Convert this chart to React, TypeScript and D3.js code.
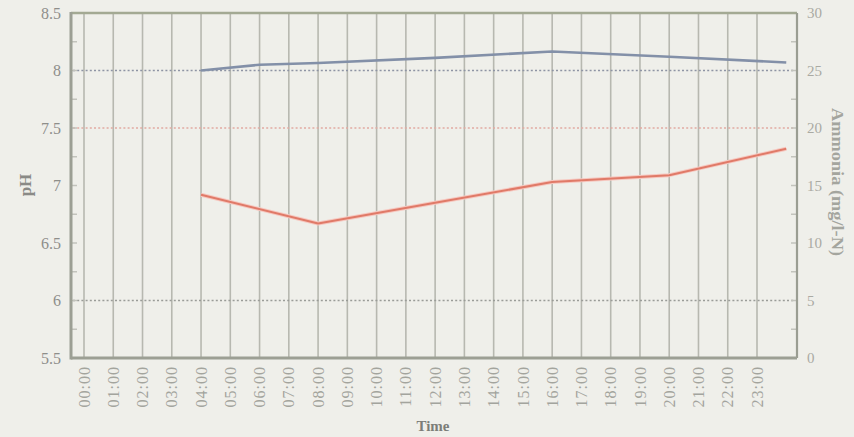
import React from "react";
import * as d3 from "d3";

const hours = d3.range(0, 24);
const hourLabels = hours.map((h) => `${String(h).padStart(2, "0")}:00`);
const phTicks = [5.5, 6, 6.5, 7, 7.5, 8, 8.5];
const ammoniaTicks = [0, 5, 10, 15, 20, 25, 30];

const phHours = [4, 6, 8, 12, 16, 20, 24];
const phValues = [8.0, 8.05, 8.065, 8.11, 8.165, 8.12, 8.07];

const ammoniaHours = [4, 8, 12, 16, 20, 24];
const ammoniaValues = [14.2, 11.7, 13.5, 15.3, 15.9, 18.2];

const refLevels = [8, 7.5, 6];
const refColors = ["#8e94a4", "#e2aaa2", "#9a9c98"];

const W = 854;
const H = 437;
const L = 71, R = 797, T = 13, B = 358;

export default function App() {
  const x = d3.scaleLinear().domain([0, 23]).range([84, 757]);
  const yL = d3.scaleLinear().domain([5.5, 8.5]).range([B, T]);
  const yR = d3.scaleLinear().domain([0, 30]).range([B, T]);

  const phLine = d3.line<number>().x((_, i) => x(phHours[i])).y((d) => yL(d));
  const amLine = d3.line<number>().x((_, i) => x(ammoniaHours[i])).y((d) => yR(d));

  const minorL = d3.range(5.5, 8.51, 0.25);
  const minorR = d3.range(0, 30.01, 2.5);

  return (
    <svg width={W} height={H} style={{ position: "absolute", left: 0, top: 0, fontFamily: "'Liberation Serif', serif" }}>
      <rect x={0} y={0} width={W} height={H} fill="#efefea" />
      {hours.map((h) => (
        <line key={h} x1={x(h)} x2={x(h)} y1={T} y2={B} stroke="#b7b8b0" strokeWidth={1.6} />
      ))}
      {refLevels.map((v, i) => (
        <line key={v} x1={L + 2} x2={R - 3} y1={yL(v)} y2={yL(v)} stroke={refColors[i]} strokeWidth={1.6} strokeDasharray="2,2.2" />
      ))}
      {minorL.map((v) => (
        <line key={"l" + v} x1={L} x2={L + 6} y1={yL(v)} y2={yL(v)} stroke="#c2c3bc" strokeWidth={1.5} />
      ))}
      {minorR.map((v) => (
        <line key={"r" + v} x1={R - 6} x2={R} y1={yR(v)} y2={yR(v)} stroke="#c2c3bc" strokeWidth={1.5} />
      ))}
      <path d={amLine(ammoniaValues) || ""} fill="none" stroke="#f6c8c0" strokeWidth={4} strokeLinejoin="round" />
      <path d={amLine(ammoniaValues) || ""} fill="none" stroke="#e07a68" strokeWidth={2} strokeLinejoin="round" />
      <path d={phLine(phValues) || ""} fill="none" stroke="#8390a8" strokeWidth={2.6} strokeLinejoin="round" />
      <line x1={L} x2={R} y1={T} y2={T} stroke="#a3a993" strokeWidth={2.5} />
      <line x1={R} x2={R} y1={T} y2={B} stroke="#9a9d92" strokeWidth={2.2} />
      <line x1={L} x2={L} y1={T - 1} y2={B + 1.5} stroke="#9c9f94" strokeWidth={3} />
      <line x1={L} x2={R} y1={B} y2={B} stroke="#9c9f94" strokeWidth={3} />
      {phTicks.map((v) => (
        <text key={v} x={61} y={yL(v)} dy="0.35em" textAnchor="end" fontSize={16} fill="#8e8e8a">
          {String(v)}
        </text>
      ))}
      {ammoniaTicks.map((v) => (
        <text key={v} x={807} y={yR(v)} dy="0.35em" textAnchor="start" fontSize={15} fill="#aaaaa3">
          {String(v)}
        </text>
      ))}
      {hours.map((h, i) => (
        <text key={h} transform={`translate(${x(h)},366) rotate(-90)`} dy="0.35em" textAnchor="end" fontSize={16} fill="#a3a49d" letterSpacing={1}>
          {hourLabels[i]}
        </text>
      ))}
      <text x={433} y={431} textAnchor="middle" fontSize={15} fontWeight="bold" fill="#7c7d78">Time</text>
      <text transform="translate(25,185) rotate(-90)" dy="0.35em" textAnchor="middle" fontSize={17} fontWeight="bold" fill="#8a8a86">pH</text>
      <text transform="translate(838,182) rotate(90)" dy="0.35em" textAnchor="middle" fontSize={16} fontWeight="bold" fill="#a4a59e" textLength={148} lengthAdjust="spacingAndGlyphs">Ammonia (mg/l-N)</text>
    </svg>
  );
}
